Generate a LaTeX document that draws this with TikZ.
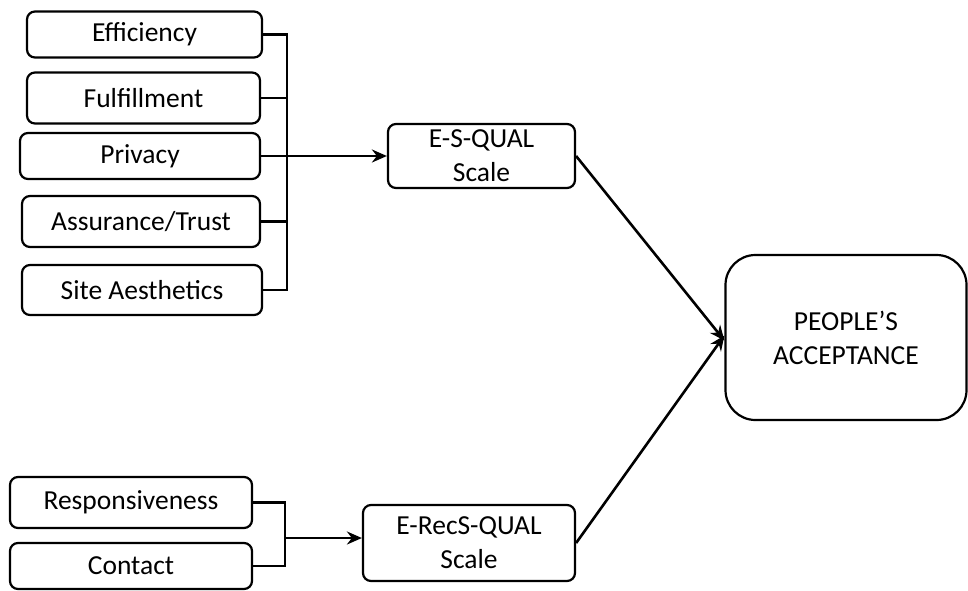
\documentclass[tikz,border=0pt]{standalone}
\usepackage{fontspec}
\setmainfont{Carlito}
\usetikzlibrary{arrows.meta}
\begin{document}
\begin{tikzpicture}[x=1pt,y=-1pt,
  box/.style={draw=black,line width=2.2pt,rounded corners=8pt,inner sep=0pt,
    font=\fontsize{27.5}{34}\selectfont,align=center},
  bigbox/.style={box,rounded corners=30pt},
  conn/.style={draw=black,line width=2.6pt},
  arr/.style={conn,-{Stealth[length=15pt,width=13pt,inset=5pt]}}]
\useasboundingbox (0,0) rectangle (968,590);
\node[box,minimum width=235pt,minimum height=46pt] (eff) at (144.5,34.5) {Efficiency};
\node[box,minimum width=233pt,minimum height=51pt] (ful) at (143.5,98) {Fulfillment};
\node[box,minimum width=240pt,minimum height=46pt] (pri) at (140,156) {Privacy};
\node[box,minimum width=238pt,minimum height=51pt] (ass) at (141,221.5) {Assurance/Trust};
\node[box,minimum width=240pt,minimum height=50pt] (sit) at (142,290) {Site Aesthetics};
\node[box,minimum width=187pt,minimum height=64pt] (esq) at (481.5,156) {E-S-QUAL\\Scale};
\node[bigbox,minimum width=241pt,minimum height=165pt] (pa) at (846,337.5) {PEOPLE’S\\ACCEPTANCE};
\node[box,minimum width=242pt,minimum height=51pt] (res) at (131,502.5) {Responsiveness};
\node[box,minimum width=242pt,minimum height=46pt] (con) at (131,566) {Contact};
\node[box,minimum width=212pt,minimum height=76pt] (ers) at (469,543) {E-RecS-QUAL\\Scale};
\coordinate (bt) at (287,34.5);
\coordinate (bb) at (287,290);
\coordinate (lt) at (285,502.5);
\coordinate (lb) at (285,566);
\coordinate (la) at (285,538);
\draw[conn] (eff.east) -- (eff.east -| bt);
\draw[conn] (ful.east) -- (ful.east -| bt);
\draw[conn] (pri.east) -- (pri.east -| bt);
\draw[conn] (ass.east) -- (ass.east -| bt);
\draw[conn] (sit.east) -- (sit.east -| bt);
\draw[conn,line cap=rect] (bt) -- (bb);
\draw[arr] (pri.east -| bt) -- (esq.west);
\draw[conn] (res.east) -- (res.east -| lt);
\draw[conn] (con.east) -- (con.east -| lt);
\draw[conn,line cap=rect] (lt) -- (lb);
\draw[arr] (la) -- (la -| ers.west);
\draw[arr] (esq.east) -- ([yshift=-3pt]pa.west);
\draw[arr] (ers.east) -- ([yshift=2pt]pa.west);
\end{tikzpicture}
\end{document}
